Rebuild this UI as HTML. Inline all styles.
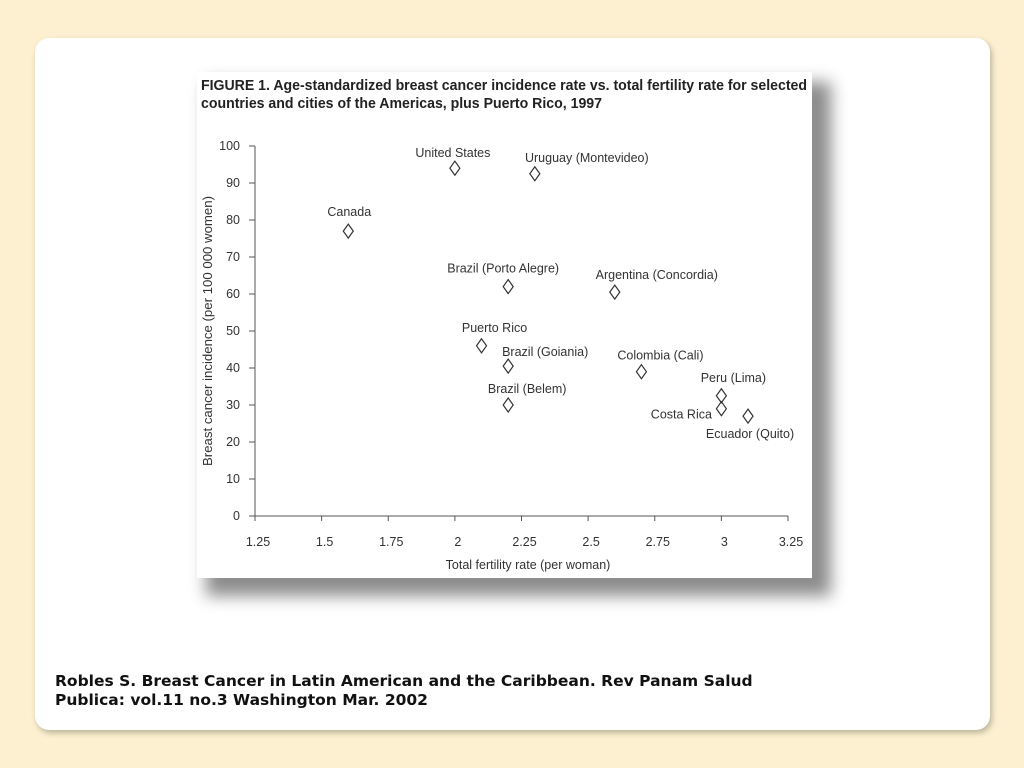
<!DOCTYPE html>
<html><head><meta charset="utf-8">
<style>
body{margin:0;width:1024px;height:768px;background:#fcf0d0;font-family:"Liberation Sans",sans-serif;overflow:hidden;position:relative}
#card{position:absolute;left:35px;top:38px;width:955px;height:692px;background:#fff;border-radius:14px;box-shadow:2px 3px 6px rgba(0,0,0,0.25)}
#cite{position:absolute;left:55px;top:672px;font-size:15.5px;font-weight:bold;color:#111;line-height:19px;font-family:"DejaVu Sans",sans-serif;letter-spacing:0}
svg{position:absolute;left:0;top:0}
</style></head><body>
<div id="card"></div>
<svg width="1024" height="768">
<defs><filter id="sh" x="-5%" y="-5%" width="115%" height="115%"><feGaussianBlur stdDeviation="8"/></filter></defs>
<rect x="206" y="82" width="625" height="514" fill="#666" filter="url(#sh)" opacity="0.75"/>
<rect x="197" y="72" width="615" height="506" fill="#fff"/>
<text x="201" y="90" font-size="14.5" font-weight="bold" fill="#222" textLength="606" lengthAdjust="spacingAndGlyphs">FIGURE 1. Age-standardized breast cancer incidence rate vs. total fertility rate for selected</text>
<text x="201" y="108" font-size="14.5" font-weight="bold" fill="#222" textLength="401" lengthAdjust="spacingAndGlyphs">countries and cities of the Americas, plus Puerto Rico, 1997</text>
<g id="plot"></g>
</svg>
<div id="cite">Robles S. Breast Cancer in Latin American and the Caribbean. Rev Panam Salud<br>Publica: vol.11 no.3 Washington Mar. 2002</div>
<script>
const names=["Canada","United States","Uruguay (Montevideo)","Brazil (Porto Alegre)","Argentina (Concordia)","Puerto Rico","Brazil (Goiania)","Colombia (Cali)","Brazil (Belem)","Peru (Lima)","Costa Rica","Ecuador (Quito)"];
const fertility=[1.6,2.0,2.3,2.2,2.6,2.1,2.2,2.7,2.2,3.0,3.0,3.1];
const incidence=[77,94,92.5,62,60.5,46,40.5,39,30,32.5,29,27];
const xTicks=[1.25,1.5,1.75,2,2.25,2.5,2.75,3,3.25];
const yTicks=[0,10,20,30,40,50,60,70,80,90,100];
const labelOffsets=[[1,-15],[-2,-11],[52,-12],[-5,-14],[42,-13],[13,-14],[37,-10],[19,-12],[19,-12],[12,-14],[-40,10],[2,22]];
const NS="http://www.w3.org/2000/svg";
const g=document.getElementById('plot');
const X=v=>255+(v-1.25)/2*533;
const Y=v=>516-v/100*370;
function mk(t,a,txt){const e=document.createElementNS(NS,t);for(const k in a)e.setAttribute(k,a[k]);if(txt!=null)e.textContent=txt;g.appendChild(e);return e;}
let e;
e=mk('line',{x1:X(1.25),y1:Y(0),x2:X(3.25),y2:Y(0),stroke:'#555','stroke-width':1});


e=mk('line',{x1:X(1.25),y1:Y(0),x2:X(1.25),y2:Y(100),stroke:'#555','stroke-width':1});


xTicks.forEach(t=>{
 mk('line',{x1:X(t),y1:Y(0),x2:X(t),y2:Y(0)+5,stroke:'#555'});
 e=mk('text',{x:X(t)+3,y:546,'font-size':12.5,'text-anchor':'middle',fill:'#333'},String(t));
 
 
});
yTicks.forEach(t=>{
 mk('line',{x1:X(1.25)-6,y1:Y(t),x2:X(1.25),y2:Y(t),stroke:'#555'});
 e=mk('text',{x:240,y:Y(t)+4,'font-size':12.5,'text-anchor':'end',fill:'#333'},String(t));
 
 
});
e=mk('text',{x:528,y:569,'font-size':12.5,'text-anchor':'middle',fill:'#333'},'Total fertility rate (per woman)');


e=mk('text',{x:-135,y:0,'font-size':12.5,fill:'#333',textLength:270,lengthAdjust:'spacingAndGlyphs',transform:'translate(212,331) rotate(-90)'},'Breast cancer incidence (per 100 000 women)');


names.forEach((n,i)=>{
 const cx=X(fertility[i]),cy=Y(incidence[i]);
 e=mk('path',{d:`M${cx} ${cy-7}L${cx+5} ${cy}L${cx} ${cy+7}L${cx-5} ${cy}Z`,fill:'none',stroke:'#333','stroke-width':1.2});
 
 
 e=mk('text',{x:cx+labelOffsets[i][0],y:cy+labelOffsets[i][1],'font-size':12.5,'text-anchor':'middle',fill:'#333'},n);
 
 
});
</script>
</body></html>
